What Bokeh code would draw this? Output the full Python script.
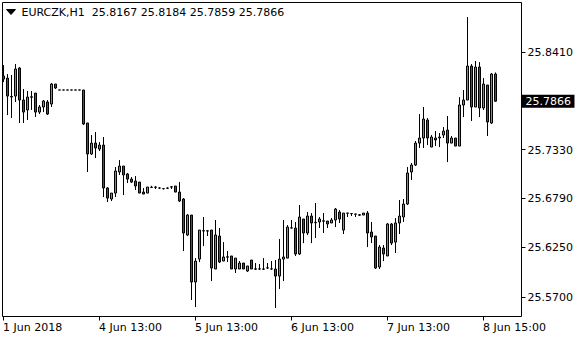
from bokeh.plotting import figure
from bokeh.models import ColumnDataSource, FixedTicker, Range1d, Label, LinearAxis
from bokeh.embed import file_html
from bokeh.resources import INLINE

symbol = "EURCZK,H1"

opens = [25.8145, 25.8122, 25.7918, 25.7923, 25.8233, 25.7879, 25.7769, 25.7915, 25.7956, 25.7746,
         25.7802, 25.7857, 25.7835, 25.8056, 25.7990, 25.7990, 25.7990, 25.7990, 25.7990, 25.7990,
         25.7990, 25.7625, 25.7282, 25.7403, 25.7337, 25.7381, 25.6906, 25.6784, 25.6850, 25.7083,
         25.7149, 25.7061, 25.7005, 25.6983, 25.6972, 25.6861, 25.6850, 25.6915, 25.6914, 25.6906,
         25.6899, 25.6906, 25.6917, 25.6928, 25.6861, 25.6784, 25.6386, 25.6607, 25.5866, 25.6120,
         25.6430, 25.6432, 25.6441, 25.6010, 25.6375, 25.6098, 25.6141, 25.6154, 25.6010, 25.6010,
         25.6076, 25.5988, 25.6109, 25.6012, 25.6010, 25.6008, 25.6021, 25.6012, 25.6010, 25.5932,
         25.6120, 25.6131, 25.6463, 25.6463, 25.6176, 25.6563, 25.6408, 25.6596, 25.6522, 25.6530,
         25.6543, 25.6541, 25.6519, 25.6552, 25.6640, 25.6441, 25.6629, 25.6624, 25.6618, 25.6610,
         25.6607, 25.6629, 25.6419, 25.6375, 25.6032, 25.6242, 25.6154, 25.6508, 25.6308, 25.6519,
         25.6585, 25.6729, 25.7083, 25.7160, 25.7403, 25.7459, 25.7658, 25.7359, 25.7459, 25.7459,
         25.7492, 25.7547, 25.7403, 25.7459, 25.7370, 25.7824, 25.7879, 25.8255, 25.7802, 25.8244,
         25.7791, 25.8045, 25.7625, 25.8167]

highs = [25.8266, 25.8167, 25.8156, 25.8277, 25.8244, 25.8001, 25.7979, 25.7979, 25.7956, 25.7824,
         25.7879, 25.7879, 25.8067, 25.8056, 25.7990, 25.7990, 25.7990, 25.7990, 25.7990, 25.7990,
         25.7990, 25.7625, 25.7492, 25.7525, 25.7414, 25.7470, 25.6917, 25.6850, 25.7138, 25.7215,
         25.7149, 25.7072, 25.7027, 25.7038, 25.6972, 25.6906, 25.6917, 25.6930, 25.6928, 25.6912,
         25.6906, 25.6912, 25.6928, 25.6928, 25.6972, 25.6795, 25.6618, 25.6607, 25.6131, 25.6441,
         25.6585, 25.6441, 25.6441, 25.6552, 25.6463, 25.6308, 25.6209, 25.6154, 25.6131, 25.6098,
         25.6076, 25.6043, 25.6109, 25.6076, 25.6065, 25.6131, 25.6076, 25.6098, 25.6109, 25.6342,
         25.6552, 25.6496, 25.6552, 25.6530, 25.6718, 25.6563, 25.6640, 25.6629, 25.6740, 25.6585,
         25.6629, 25.6541, 25.6574, 25.6685, 25.6662, 25.6629, 25.6629, 25.6629, 25.6620, 25.6618,
         25.6629, 25.6651, 25.6530, 25.6375, 25.6275, 25.6275, 25.6519, 25.6519, 25.6574, 25.6773,
         25.6784, 25.7138, 25.7182, 25.7426, 25.7724, 25.7802, 25.7680, 25.7492, 25.7536, 25.7514,
         25.7580, 25.7702, 25.7481, 25.7459, 25.7912, 25.7990, 25.8797, 25.8277, 25.8311, 25.8299,
         25.8122, 25.8045, 25.8178, 25.8184]

lows = [25.8078, 25.7713, 25.7680, 25.7857, 25.7625, 25.7625, 25.7658, 25.7769, 25.7691, 25.7724,
        25.7746, 25.7713, 25.7802, 25.8001, 25.7990, 25.7990, 25.7990, 25.7990, 25.7990, 25.7990,
        25.7603, 25.7083, 25.7271, 25.7238, 25.7315, 25.6806, 25.6751, 25.6762, 25.6806, 25.7050,
        25.6828, 25.6961, 25.6961, 25.6884, 25.6850, 25.6839, 25.6850, 25.6906, 25.6895, 25.6895,
        25.6890, 25.6895, 25.6895, 25.6861, 25.6751, 25.6209, 25.6375, 25.5667, 25.5589, 25.6087,
        25.6264, 25.6375, 25.5877, 25.6010, 25.6076, 25.6098, 25.6087, 25.6010, 25.5966, 25.6010,
        25.6010, 25.5977, 25.6010, 25.5999, 25.5999, 25.5999, 25.6010, 25.5999, 25.5578, 25.5789,
        25.5877, 25.6131, 25.6460, 25.6154, 25.6165, 25.6297, 25.6386, 25.6297, 25.6353, 25.6463,
        25.6408, 25.6463, 25.6519, 25.6474, 25.6519, 25.6397, 25.6585, 25.6596, 25.6585, 25.6596,
        25.6607, 25.6253, 25.6297, 25.6010, 25.6010, 25.6098, 25.6154, 25.6275, 25.6187, 25.6397,
        25.6530, 25.6718, 25.6994, 25.7149, 25.7348, 25.7348, 25.7381, 25.7359, 25.7370, 25.7359,
        25.7459, 25.7193, 25.7403, 25.7370, 25.7370, 25.7691, 25.7879, 25.7647, 25.7802, 25.7691,
        25.7769, 25.7481, 25.7614, 25.7859]

closes = [25.8111, 25.7923, 25.7912, 25.8222, 25.7879, 25.7746, 25.7912, 25.7910, 25.7746, 25.7802,
          25.7868, 25.7724, 25.8056, 25.8012, 25.7990, 25.7990, 25.7990, 25.7990, 25.7990, 25.7990,
          25.7614, 25.7282, 25.7403, 25.7348, 25.7381, 25.6906, 25.6795, 25.6850, 25.7094, 25.7149,
          25.7050, 25.7005, 25.6972, 25.6928, 25.6850, 25.6839, 25.6917, 25.6912, 25.6916, 25.6906,
          25.6899, 25.6904, 25.6919, 25.6861, 25.6762, 25.6408, 25.6607, 25.5866, 25.6098, 25.6441,
          25.6434, 25.6430, 25.6021, 25.6386, 25.6087, 25.6143, 25.6145, 25.6010, 25.6131, 25.6076,
          25.6010, 25.6043, 25.6010, 25.6008, 25.6012, 25.6010, 25.6023, 25.6010, 25.5932, 25.6120,
          25.6143, 25.6474, 25.6465, 25.6176, 25.6585, 25.6408, 25.6596, 25.6519, 25.6527, 25.6563,
          25.6539, 25.6508, 25.6552, 25.6673, 25.6563, 25.6629, 25.6627, 25.6622, 25.6616, 25.6605,
          25.6629, 25.6408, 25.6364, 25.6021, 25.6253, 25.6176, 25.6508, 25.6297, 25.6519, 25.6596,
          25.6729, 25.7072, 25.7160, 25.7403, 25.7459, 25.7669, 25.7459, 25.7470, 25.7437, 25.7470,
          25.7536, 25.7403, 25.7459, 25.7370, 25.7824, 25.7879, 25.8255, 25.7802, 25.8244, 25.7791,
          25.8056, 25.7636, 25.8167, 25.7866]

x_tick_index = [0, 24, 48, 72, 96, 120]
x_tick_labels = ["1 Jun 2018", "4 Jun 13:00", "5 Jun 13:00", "6 Jun 13:00", "7 Jun 13:00", "8 Jun 15:00"]
y_ticks = [25.8410, 25.7330, 25.6790, 25.6250, 25.5700]

UP = "#33c233"
DOWN = "#e81010"
FONT = "DejaVu Sans"
FS = "11px"

W, H = 580, 340
# view window (whole canvas is the frame; axes are pinned inside it)
X_START, X_PER_PX = -0.75, 0.25
Y_TOP, Y_PER_PX = 25.8980, 0.0011061


def X(px):
    return X_START + px * X_PER_PX


def Y(py):
    return Y_TOP - py * Y_PER_PX


n = len(opens)
src = ColumnDataSource(dict(
    x=list(range(n)),
    h=highs, l=lows,
    top=[max(a, b) for a, b in zip(opens, closes)],
    bottom=[min(a, b) for a, b in zip(opens, closes)],
    color=[UP if c >= o else DOWN for o, c in zip(opens, closes)],
))

p = figure(width=W, height=H, output_backend="svg", toolbar_location=None,
           x_range=Range1d(X(0), X(W)), y_range=Range1d(Y(H), Y(0)),
           y_axis_location="right", min_border=0)
p.background_fill_color = "white"
p.border_fill_color = "white"
p.outline_line_color = None
p.xgrid.visible = False
p.ygrid.visible = False

# chart box: left/top edges (right edge = price axis, bottom edge = time axis)
XL, XR, YT, YB = X(2), X(521), Y(2), Y(316)
p.line(x=[XL, XL, XR], y=[YB, YT, YT], line_color="black", line_width=1)

# candles
p.segment(x0="x", y0="h", x1="x", y1="l", source=src, line_color="black", line_width=1)
p.vbar(x="x", top="top", bottom="bottom", width=0.5, source=src,
       fill_color="color", line_color="black", line_width=1)

# price axis (pinned on the chart's right edge)
ya = p.yaxis[0]
ya.fixed_location = XR
ya.bounds = (YB, YT)
ya.ticker = FixedTicker(ticks=y_ticks)
ya.major_label_overrides = {t: f"{t:.4f}" for t in y_ticks}
ya.minor_tick_line_color = None
ya.major_tick_in = 0
ya.major_tick_out = 4
ya.major_label_standoff = 2
ya.axis_line_color = "black"
ya.major_label_text_font = FONT
ya.major_label_text_font_size = FS
ya.major_label_text_color = "black"

# time axis: tick marks
xa = p.xaxis[0]
xa.fixed_location = YB
xa.bounds = (XL, XR)
xa.ticker = FixedTicker(ticks=x_tick_index)
xa.major_label_overrides = {i: "" for i in x_tick_index}
xa.major_label_text_font_size = "1px"
xa.minor_tick_line_color = None
xa.major_tick_in = 0
xa.major_tick_out = 4
xa.axis_line_color = "black"

# time axis: labels, left-aligned at their tick (MetaTrader style)
CHAR_W = {" ": 3.50, "J": 3.24, "u": 6.97, "n": 6.97, ":": 3.71}


def text_width(s):
    return sum(CHAR_W.get(ch, 7.0) for ch in s)


label_pos = [i + (text_width(t) / 2 - 0.5) * X_PER_PX for i, t in zip(x_tick_index, x_tick_labels)]
xl = LinearAxis(fixed_location=YB, ticker=FixedTicker(ticks=label_pos),
                major_label_overrides={v: t for v, t in zip(label_pos, x_tick_labels)},
                axis_line_color=None, major_tick_line_color=None, minor_tick_line_color=None,
                major_tick_in=0, major_tick_out=0, major_label_standoff=4,
                major_label_text_font=FONT, major_label_text_font_size=FS,
                major_label_text_color="black")
p.add_layout(xl, "below")

# header
p.patch(x=[X(6), X(15), X(10.5)], y=[Y(9), Y(9), Y(14)], fill_color="black", line_color="black")
header = f"{symbol}\u00a0\u00a0{opens[-1]:.4f} {highs[-1]:.4f} {lows[-1]:.4f} {closes[-1]:.4f}"
p.add_layout(Label(x=X(21), y=Y(12), text=header, text_font=FONT, text_font_size=FS,
                   text_color="black", text_baseline="middle", text_align="left"))

# current price marker on the price scale
p.add_layout(Label(x=XR, y=closes[-1], x_offset=0.5, text="\u00a0" + f"{closes[-1]:.4f}" + "\u00a0",
                   text_font=FONT, text_font_size=FS, text_color="white",
                   text_baseline="middle", text_align="left",
                   background_fill_color="black", background_fill_alpha=1.0))

open("out.html", "w").write(file_html(p, INLINE))
